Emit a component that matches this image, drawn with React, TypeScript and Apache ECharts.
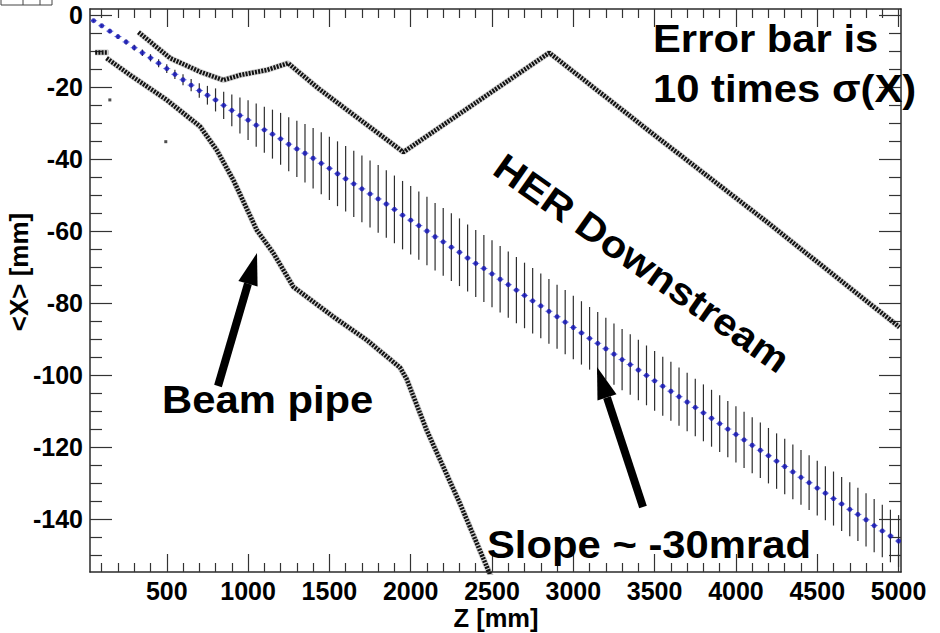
import React, { useEffect, useRef } from "react";
import * as echarts from "echarts";

// Bin centres along Z [mm]
const zPositions = [
  50, 100, 150, 200, 250, 300, 350, 400, 450, 500,
  550, 600, 650, 700, 750, 800, 850, 900, 950, 1000,
  1050, 1100, 1150, 1200, 1250, 1300, 1350, 1400, 1450, 1500,
  1550, 1600, 1650, 1700, 1750, 1800, 1850, 1900, 1950, 2000,
  2050, 2100, 2150, 2200, 2250, 2300, 2350, 2400, 2450, 2500,
  2550, 2600, 2650, 2700, 2750, 2800, 2850, 2900, 2950, 3000,
  3050, 3100, 3150, 3200, 3250, 3300, 3350, 3400, 3450, 3500,
  3550, 3600, 3650, 3700, 3750, 3800, 3850, 3900, 3950, 4000,
  4050, 4100, 4150, 4200, 4250, 4300, 4350, 4400, 4450, 4500,
  4550, 4600, 4650, 4700, 4750, 4800, 4850, 4900, 4950, 5000,
];

// <X> [mm] at each Z
const meanX = [
  -1.5, -2.9, -4.4, -5.9, -7.4, -9.0, -10.4, -11.8, -13.3, -14.8,
  -16.4, -17.9, -19.4, -20.9, -22.2, -23.5, -25.0, -26.4, -27.8, -29.1,
  -30.5, -31.8, -33.0, -34.3, -35.8, -37.1, -38.3, -39.7, -41.1, -42.5,
  -44.0, -45.4, -46.8, -48.2, -49.6, -51.0, -52.4, -53.9, -55.5, -56.9,
  -58.4, -59.9, -61.5, -62.9, -64.4, -65.8, -67.4, -68.9, -70.3, -71.8,
  -73.3, -74.8, -76.3, -77.8, -79.3, -80.7, -82.2, -83.7, -85.2, -86.7,
  -88.2, -89.7, -91.1, -92.6, -94.1, -95.6, -97.0, -98.5, -100.0, -101.5,
  -103.0, -104.4, -105.9, -107.4, -108.9, -110.4, -111.9, -113.4, -114.9, -116.4,
  -117.9, -119.4, -120.8, -122.3, -123.8, -125.3, -126.8, -128.3, -129.8, -131.3,
  -132.7, -134.2, -135.7, -137.2, -138.6, -140.1, -141.7, -143.2, -144.6, -146.0,
];

// Error bar half-length = 10 x sigma(X) [mm]
const errX10 = [
  0.3, 0.4, 0.5, 0.6, 0.7, 0.8, 0.9, 1.0, 1.1, 1.2,
  1.3, 1.5, 1.7, 2.0, 2.6, 3.2, 3.8, 4.4, 5.0, 5.5,
  6.0, 6.4, 6.8, 7.2, 7.5, 7.8, 8.1, 8.4, 8.6, 8.8,
  9.0, 9.1, 9.2, 9.3, 9.3, 9.4, 9.4, 9.4, 9.5, 9.5,
  9.5, 9.5, 9.4, 9.4, 9.4, 9.4, 9.3, 9.3, 9.3, 9.3,
  9.2, 9.2, 9.2, 9.1, 9.1, 9.0, 9.0, 8.9, 8.9, 8.8,
  8.8, 8.7, 8.7, 8.6, 8.5, 8.5, 8.4, 8.4, 8.3, 8.3,
  8.2, 8.2, 8.1, 8.1, 8.0, 7.9, 7.9, 7.9, 7.8, 7.8,
  7.8, 7.8, 7.7, 7.7, 7.7, 7.7, 7.6, 7.6, 7.6, 7.6,
  7.5, 7.5, 7.5, 7.5, 7.4, 7.4, 7.4, 7.3, 7.3, 7.2,
];

// Beam pipe walls [Z, X]
const upperPipe = [
  [326, -4.7], [521, -11.9], [705, -15.7], [848, -18.0], [951, -16.6],
  [1115, -15.2], [1246, -13.3], [1432, -20.3], [1955, -38.0], [2852, -10.4],
  [3471, -32.3], [4188, -57.3], [5005, -86.6],
];
const lowerPipe = [
  [130, -11.9], [275, -16.6], [500, -23.5], [705, -30.9], [807, -37.4],
  [910, -45.8], [1053, -59.6], [1156, -66.1], [1278, -75.4], [1524, -83.7],
  [1730, -90.2], [1934, -97.8], [1975, -101.0], [2098, -115.2], [2303, -135.6],
  [2495, -156],
];
const pipeStub = [[60, -10.3], [140, -10.3]];
const strayHits = [[150, -23.5], [494, -35.1]];

const xMajorTicks = [500, 1000, 1500, 2000, 2500, 3000, 3500, 4000, 4500, 5000];
const xMinorTicks = [
  100, 200, 300, 400, 600, 700, 800, 900, 1100, 1200, 1300, 1400, 1600, 1700, 1800, 1900,
  2100, 2200, 2300, 2400, 2600, 2700, 2800, 2900, 3100, 3200, 3300, 3400, 3600, 3700, 3800, 3900,
  4100, 4200, 4300, 4400, 4600, 4700, 4800, 4900,
];
const yMajorTicks = [0, -20, -40, -60, -80, -100, -120, -140];
const yMinorTicks = [
  -5, -10, -15, -25, -30, -35, -45, -50, -55, -65, -70, -75, -85, -90, -95,
  -105, -110, -115, -125, -130, -135, -145, -150,
];

const X_MIN = 28;
const X_MAX = 5015;
const Y_MIN = -154.6;
const Y_MAX = 1.75;

const FONT = "'Liberation Sans', Arial, Helvetica, sans-serif";
const FRAME = "#2a2a2a";

function labelStyle(ticks: number[], margin: number) {
  return {
    show: true,
    customValues: ticks,
    margin,
    color: "#000",
    fontFamily: FONT,
    fontWeight: "bold",
    fontSize: 25,
    formatter: (v: number) => String(v),
  };
}

function xAxisDef(position: "top" | "bottom", ticks: number[], len: number, showLine: boolean, labels: boolean) {
  return {
    type: "value",
    position,
    min: X_MIN,
    max: X_MAX,
    splitLine: { show: false },
    axisLine: { show: showLine, onZero: false, lineStyle: { color: FRAME, width: 1.5 } },
    axisTick: { show: true, inside: true, length: len, customValues: ticks, lineStyle: { color: "#333", width: 1.2 } },
    axisLabel: labels ? labelStyle(ticks, 6) : { show: false },
  };
}
function yAxisDef(position: "left" | "right", ticks: number[], len: number, showLine: boolean, labels: boolean) {
  return {
    type: "value",
    position,
    min: Y_MIN,
    max: Y_MAX,
    splitLine: { show: false },
    axisLine: { show: showLine, onZero: false, lineStyle: { color: FRAME, width: 1.5 } },
    axisTick: { show: true, inside: true, length: len, customValues: ticks, lineStyle: { color: "#333", width: 1.2 } },
    axisLabel: labels ? labelStyle(ticks, 7) : { show: false },
  };
}

function annot(text: string, x: number, y: number, extra: any = {}) {
  return {
    type: "text",
    x,
    y,
    scaleX: 1.1,
    z: 100,
    ...extra,
    style: {
      text,
      x: 0,
      y: 0,
      fill: "#000",
      fontFamily: FONT,
      fontWeight: "bold",
      fontSize: 38,
      textAlign: extra.align || "left",
      textVerticalAlign: "middle",
      verticalAlign: "middle",
    },
  };
}

function arrow(tail: number[], tip: number[]) {
  const dx = tip[0] - tail[0];
  const dy = tip[1] - tail[1];
  const L = Math.hypot(dx, dy);
  const ux = dx / L, uy = dy / L;
  const nx = -uy, ny = ux;
  const hl = 32, hw = 10;
  const bx = tip[0] - hl * ux, by = tip[1] - hl * uy;
  return [
    { type: "line", z: 100, shape: { x1: tail[0], y1: tail[1], x2: bx, y2: by }, style: { stroke: "#000", lineWidth: 8 } },
    {
      type: "polygon",
      z: 100,
      shape: { points: [[tip[0], tip[1]], [bx + hw * nx, by + hw * ny], [bx - hw * nx, by - hw * ny]] },
      style: { fill: "#000" },
    },
  ];
}

export default function App() {
  const ref = useRef<HTMLDivElement>(null);
  useEffect(() => {
    if (!ref.current) return;
    const chart = echarts.init(ref.current, null, { renderer: "svg" });
    const haloStyle = { color: "rgba(0,0,0,0.18)", width: 6, type: "solid" };
    const pipeStyle = { color: "#111", width: 4.5, type: [2, 1.2] as any };
    const pipeSeries = (data: number[][]) => [
      { type: "line", data, symbol: "none", lineStyle: haloStyle, clip: true, z: 1, silent: true },
      { type: "line", data, symbol: "none", lineStyle: pipeStyle, clip: true, z: 1, silent: true },
    ];
    const option: any = {
      animation: false,
      backgroundColor: "#fff",
      grid: { left: 90, right: 39, top: 9, bottom: 61, containLabel: false },
      xAxis: [
        xAxisDef("bottom", xMajorTicks, 18, true, true),
        xAxisDef("bottom", xMinorTicks, 9, false, false),
        xAxisDef("top", xMajorTicks, 18, true, false),
        xAxisDef("top", xMinorTicks, 9, false, false),
      ],
      yAxis: [
        yAxisDef("left", yMajorTicks, 22, true, true),
        yAxisDef("left", yMinorTicks, 12, false, false),
        yAxisDef("right", yMajorTicks, 22, true, false),
        yAxisDef("right", yMinorTicks, 12, false, false),
      ],
      series: [
        ...pipeSeries(upperPipe),
        ...pipeSeries(lowerPipe),
        ...pipeSeries(pipeStub),
        {
          type: "scatter",
          data: strayHits,
          symbol: "rect",
          symbolSize: 3,
          itemStyle: { color: "#222" },
          z: 1,
        },
        {
          type: "custom",
          data: zPositions.map((z, i) => [z, meanX[i], errX10[i]]),
          encode: { x: 0, y: 1 },
          clip: true,
          z: 2,
          renderItem: (params: any, api: any) => {
            const z = api.value(0);
            const m = api.value(1);
            const e = api.value(2);
            const top = api.coord([z, m + e]);
            const bot = api.coord([z, m - e]);
            const l = api.coord([z - 22, m]);
            const r = api.coord([z + 22, m]);
            return {
              type: "group",
              children: [
                { type: "line", shape: { x1: top[0], y1: top[1], x2: bot[0], y2: bot[1] }, style: { stroke: "#2e2e2e", lineWidth: 1.2 } },
                { type: "line", shape: { x1: l[0], y1: l[1], x2: r[0], y2: r[1] }, style: { stroke: "#5566dd", lineWidth: 1, opacity: 0.8 } },
              ],
            };
          },
        },
        {
          type: "scatter",
          data: zPositions.map((z, i) => [z, meanX[i]]),
          symbol: "circle",
          symbolSize: 5,
          itemStyle: { color: "#1212b5" },
          z: 3,
        },
      ],
      graphic: [
        annot("Error bar is", 653, 39),
        annot("10 times σ(X)", 653, 89),
        annot("Beam pipe", 162, 400),
        annot("Slope ~ -30mrad", 487, 545),
        annot("HER Downstream", 642, 263, { rotation: (-35 * Math.PI) / 180, align: "center" }),
        ...arrow([218, 386], [257, 253]),
        ...arrow([643, 507], [597, 367]),
        {
          type: "text",
          x: 19,
          y: 272,
          rotation: Math.PI / 2,
          style: {
            text: "<X> [mm]",
            x: 0,
            y: 0,
            fill: "#000",
            fontFamily: FONT,
            fontWeight: "bold",
            fontSize: 26,
            textAlign: "center",
            textVerticalAlign: "middle",
            verticalAlign: "middle",
          },
        },
        {
          type: "text",
          x: 496,
          y: 618,
          style: {
            text: "Z [mm]",
            x: 0,
            y: 0,
            fill: "#000",
            fontFamily: FONT,
            fontWeight: "bold",
            fontSize: 25.5,
            textAlign: "center",
            textVerticalAlign: "middle",
            verticalAlign: "middle",
          },
        },
        {
          type: "polyline",
          shape: { points: [[1, 0], [1, 5], [52, 5], [52, 0]] },
          style: { stroke: "#444", lineWidth: 1, fill: "none" },
        },
        { type: "line", shape: { x1: 23, y1: 0, x2: 23, y2: 5 }, style: { stroke: "#444", lineWidth: 1 } },
        { type: "line", shape: { x1: 40, y1: 0, x2: 40, y2: 5 }, style: { stroke: "#444", lineWidth: 1 } },
      ],
    };
    chart.setOption(option);
    return () => chart.dispose();
  }, []);
  return (
    <div
      ref={ref}
      style={{ position: "absolute", left: 0, top: 0, width: 940, height: 633, background: "#fff" }}
    />
  );
}
